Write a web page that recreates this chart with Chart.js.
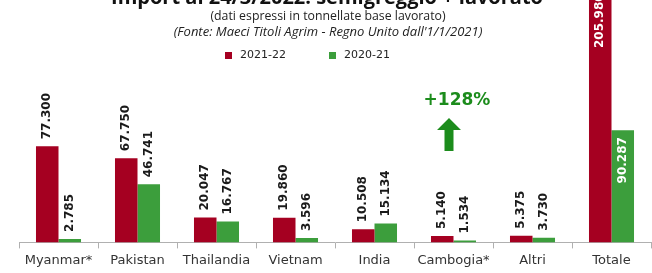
<!DOCTYPE html>
<html>
<head>
<meta charset="utf-8">
<script src="https://cdn.jsdelivr.net/npm/chart.js@4.4.0/dist/chart.umd.min.js"></script>
<style>
  html, body { margin: 0; padding: 0; background: #fff; }
  #box { width: 652px; height: 273px; position: relative; }
</style>
</head>
<body>
<div id="box"><canvas id="grafico"></canvas></div>
<script>
const paesi = ['Myanmar*', 'Pakistan', 'Thailandia', 'Vietnam', 'India', 'Cambogia*', 'Altri', 'Totale']
const anno2122 = [77300, 67750, 20047, 19860, 10508, 5140, 5375, 205980]
const anno2021 = [2785, 46741, 16767, 3596, 15134, 1534, 3730, 90287]
const serie = ['2021-22', '2020-21']
const titolo = 'Import al 24/3/2022: semigreggio + lavorato'
const sottotitolo = '(dati espressi in tonnellate base lavorato)'
const fonte = "(Fonte: Maeci Titoli Agrim - Regno Unito dall'1/1/2021)"
const variazione = '+128%'

const ROSSO = '#a50021'
const VERDE = '#3c9e3c'
const VERDE_SCURO = '#1c8c1c'

const formatta = (n) => n.toString().replace(/\B(?=(\d{3})+(?!\d))/g, '.')

// etichette ruotate sopra le barre (dentro la barra per il totale)
const etichette = {
    id: 'etichette',
    afterDatasetsDraw(chart) {
        const ctx = chart.ctx
        chart.data.datasets.forEach((ds, i) => {
            const meta = chart.getDatasetMeta(i)
            meta.data.forEach((bar, j) => {
                const testo = formatta(ds.data[j])
                ctx.save()
                ctx.font = 'bold 12px "DejaVu Sans"'
                ctx.textBaseline = 'middle'
                if (j === ds.data.length - 1) {
                    ctx.fillStyle = '#ffffff'
                    ctx.translate(bar.x, bar.y + 7)
                    ctx.rotate(-Math.PI / 2)
                    ctx.textAlign = 'right'
                } else {
                    ctx.fillStyle = '#1a1a1a'
                    ctx.translate(bar.x, bar.y - 7)
                    ctx.rotate(-Math.PI / 2)
                    ctx.textAlign = 'left'
                }
                ctx.fillText(testo, 0, 0)
                ctx.restore()
            })
        })
    }
}

// titolo, legenda, freccia
const decorazioni = {
    id: 'decorazioni',
    afterDraw(chart) {
        const ctx = chart.ctx
        ctx.save()
        ctx.textAlign = 'center'
        ctx.textBaseline = 'alphabetic'
        ctx.fillStyle = '#111'
        ctx.font = 'bold 20px "Open Sans"'
        ctx.fillText(titolo, 327, 4)

        ctx.textBaseline = 'middle'
        ctx.fillStyle = '#222'
        ctx.font = '12.3px "Open Sans"'
        ctx.fillText(sottotitolo, 328, 16)
        ctx.font = 'italic 13px "Open Sans"'
        ctx.fillText(fonte, 328, 32)

        // legenda
        const colori = [ROSSO, VERDE]
        const posX = [225, 329]
        ctx.textAlign = 'left'
        ctx.font = '11px "DejaVu Sans"'
        serie.forEach((nome, k) => {
            ctx.fillStyle = colori[k]
            ctx.fillRect(posX[k], 52, 7, 7)
            ctx.fillStyle = '#222'
            ctx.fillText(nome, posX[k] + 15, 55.5)
        })

        // +128% e freccia
        ctx.textAlign = 'center'
        ctx.fillStyle = VERDE_SCURO
        ctx.font = 'bold 17px "DejaVu Sans"'
        ctx.fillText(variazione, 457, 101)
        ctx.beginPath()
        ctx.moveTo(449, 118)
        ctx.lineTo(461, 130)
        ctx.lineTo(453.5, 130)
        ctx.lineTo(453.5, 151)
        ctx.lineTo(444.5, 151)
        ctx.lineTo(444.5, 130)
        ctx.lineTo(437, 130)
        ctx.closePath()
        ctx.fill()
        ctx.restore()
    }
}

const ctx = document.getElementById('grafico').getContext('2d')
const grafico = new Chart(ctx, {
    type: 'bar',
    data: {
        labels: paesi,
        datasets: [{
            label: serie[0],
            data: anno2122,
            backgroundColor: ROSSO,
            categoryPercentage: 0.57,
            barPercentage: 1
        }, {
            label: serie[1],
            data: anno2021,
            backgroundColor: VERDE,
            categoryPercentage: 0.57,
            barPercentage: 1
        }]
    },
    options: {
        responsive: true,
        maintainAspectRatio: false,
        animation: false,
        layout: { padding: { left: 19, right: 1, top: 0, bottom: 1 } },
        plugins: {
            legend: { display: false },
            title: { display: false },
            tooltip: { enabled: false }
        },
        scales: {
            x: {
                grid: { drawOnChartArea: false, drawTicks: true, tickLength: 6, color: '#b0b0b0' },
                border: { display: true, color: '#b0b0b0' },
                ticks: { color: '#333', padding: 4, font: { family: 'DejaVu Sans', size: 13 } }
            },
            y: {
                display: false,
                min: 0,
                max: 195000
            }
        }
    },
    plugins: [etichette, decorazioni]
})
</script>
</body>
</html>
